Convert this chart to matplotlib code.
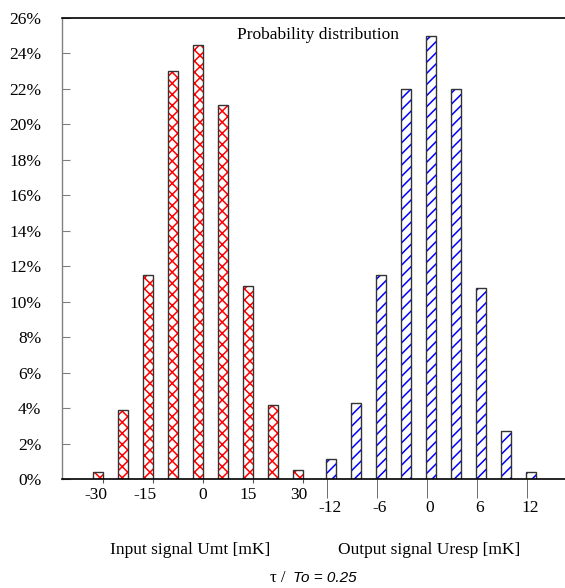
import numpy as np
import matplotlib
matplotlib.use("Agg")
import matplotlib.pyplot as plt
import matplotlib.transforms as mtransforms

# data (percent)
input_vals = [0.4, 3.9, 11.5, 23.0, 24.5, 21.1, 10.9, 4.2, 0.5]
output_vals = [1.1, 4.3, 11.5, 22.0, 25.0, 22.0, 10.8, 2.7, 0.4]
input_ticks = [-30, -15, 0, 15, 30]
output_ticks = [-12, -6, 0, 6, 12]
y_ticks = list(range(0, 27, 2))

plt.rcParams['font.family'] = ['Liberation Serif', 'DejaVu Serif']
plt.rcParams['hatch.linewidth'] = 1.1

fig = plt.figure(figsize=(5.65, 5.88), dpi=100)
ax = fig.add_axes([62 / 565, 1 - 479 / 588, 1 - 62 / 565, (479 - 18) / 588])

width = 0.38
x_in = np.arange(len(input_vals))
x_out = 9.32 + np.arange(len(output_vals))

# hatched fill, then outline on top
ax.bar(x_in, input_vals, width, color='white', edgecolor='red', hatch='xxx', linewidth=0)
ax.bar(x_in, input_vals, width, fill=False, edgecolor='#333333', linewidth=1.0)
ax.bar(x_out, output_vals, width, color='white', edgecolor='blue', hatch='///', linewidth=0)
ax.bar(x_out, output_vals, width, fill=False, edgecolor='#333333', linewidth=1.0)

ax.set_xlim(-1.44, 18.68)
ax.set_ylim(0, 26)

# y axis
ax.set_yticks(y_ticks)
ax.set_yticklabels([f'{v}%' for v in y_ticks], fontsize=12.5)
ax.tick_params(axis='y', direction='in', length=6, color='#808080', pad=15)

# x ticks: input group as major, output group as minor
in_pos = [0.2 + (v + 30) / 7.5 for v in input_ticks]
out_pos = [9.16 + (v + 12) / 3 for v in output_ticks]
ax.set_xticks(in_pos)
ax.set_xticklabels([str(v) for v in input_ticks], fontsize=12.5)
ax.set_xticks(out_pos, minor=True)
ax.set_xticklabels([str(v) for v in output_ticks], minor=True, fontsize=12.5)
ax.tick_params(axis='x', which='major', direction='out', length=3, color='#555555', pad=3)
ax.tick_params(axis='x', which='minor', direction='out', length=14, color='#555555', pad=1)
for lab in ax.get_xticklabels():
    lab.set_ha('right')
    lab.set_transform(lab.get_transform() + mtransforms.ScaledTranslation(4 / 100, 0, fig.dpi_scale_trans))
for lab in ax.get_xticklabels(minor=True):
    lab.set_transform(lab.get_transform() + mtransforms.ScaledTranslation(3 / 100, 0, fig.dpi_scale_trans))

ax.spines['right'].set_visible(False)
ax.spines['left'].set_color('#808080')
ax.spines['left'].set_linewidth(1.0)
ax.spines['top'].set_linewidth(1.2)
ax.spines['bottom'].set_linewidth(1.2)

fig.text(318 / 565, 1 - 35 / 588, 'Probability distribution', ha='center', va='center', fontsize=12.5)

fig.text(190 / 565, 1 - 550 / 588, 'Input signal Umt [mK]', ha='center', va='center', fontsize=12.5)
fig.text(429 / 565, 1 - 550 / 588, 'Output signal Uresp [mK]', ha='center', va='center', fontsize=12.5)
fig.text(286 / 565, 1 - 578 / 588, 'τ /', ha='right', va='center', fontsize=12)
fig.text(293 / 565, 1 - 578 / 588, 'To = 0.25', ha='left', va='center', fontsize=11,
         style='italic', family=['Liberation Sans Narrow', 'Liberation Sans', 'DejaVu Sans'])

fig.savefig('out.png', dpi=100)
